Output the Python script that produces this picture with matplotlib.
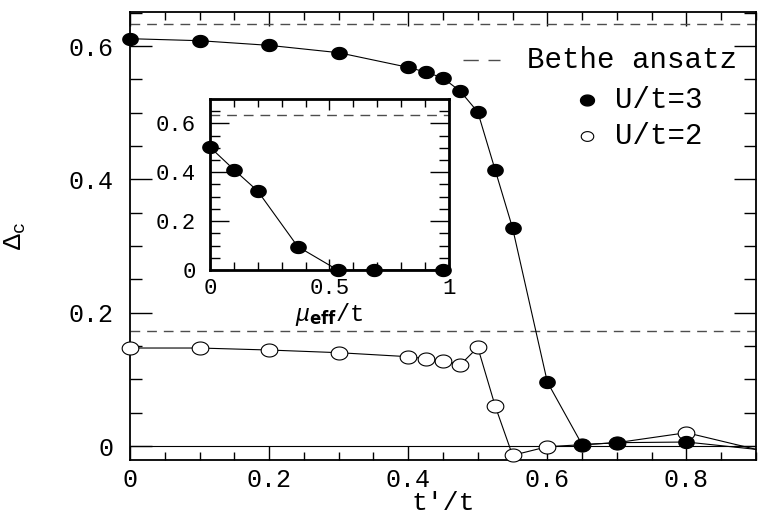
import numpy as np
import matplotlib
matplotlib.use('Agg')
import matplotlib.pyplot as plt
from matplotlib.path import Path
from matplotlib.ticker import MultipleLocator, FuncFormatter

plt.rcParams['font.family'] = ['Liberation Mono', 'DejaVu Sans Mono']
plt.rcParams['mathtext.fontset'] = 'custom'
plt.rcParams['mathtext.rm'] = 'Liberation Mono'
plt.rcParams['mathtext.it'] = 'Liberation Mono:italic'
plt.rcParams['mathtext.bf'] = 'DejaVu Sans:bold'

# main panel: gap vs t'/t
tp = [0, 0.1, 0.2, 0.3, 0.4, 0.425, 0.45, 0.475, 0.5, 0.525, 0.55, 0.6, 0.65, 0.7, 0.8, 0.9]
gap_u3 = [0.611, 0.608, 0.601, 0.590, 0.568, 0.561, 0.552, 0.532, 0.501, 0.414, 0.327,
          0.096, 0.002, 0.005, 0.006, -0.005]
gap_u2 = [0.147, 0.147, 0.144, 0.140, 0.134, 0.131, 0.128, 0.122, 0.148, 0.060, -0.014,
          -0.001, 0.002, 0.005, 0.020, -0.005]
bethe_u3 = 0.633
bethe_u2 = 0.1725

# inset: gap vs mu_eff/t
mu = [0, 0.1, 0.2, 0.367, 0.534, 0.688, 0.973]
gap_mu = [0.503, 0.411, 0.323, 0.096, 0, 0, 0]

# slightly squashed circle, as in the original
th = np.linspace(0, 2 * np.pi, 60)
ell = Path(np.column_stack([np.cos(th), 0.78 * np.sin(th)]), closed=True)

fmt = FuncFormatter(lambda v, p: '%g' % round(v, 3))
dash = (0, (7, 5))

fig = plt.figure(figsize=(7.72, 5.32), dpi=100)
ax = fig.add_axes([0.1684, 0.1353, 0.8109, 0.8421])

ax.axhline(bethe_u3, color='0.3', lw=1.0, ls=dash)
ax.axhline(bethe_u2, color='0.3', lw=1.0, ls=dash)
ax.axhline(0, color='black', lw=0.8)

ax.plot(tp, gap_u3, color='black', lw=0.8, marker=ell, ms=11, mfc='black', mec='black',
        markevery=slice(0, -1), clip_on=False, zorder=4)
ax.plot(tp, gap_u2, color='black', lw=0.8, marker=ell, ms=12, mfc='white', mec='black',
        mew=0.8, markevery=slice(0, -1), clip_on=False, zorder=3)

ax.set_xlim(0, 0.9)
ax.set_ylim(-0.021, 0.651)
ax.xaxis.set_major_locator(MultipleLocator(0.2))
ax.xaxis.set_minor_locator(MultipleLocator(0.05))
ax.yaxis.set_major_locator(MultipleLocator(0.2))
ax.yaxis.set_minor_locator(MultipleLocator(0.05))
ax.xaxis.set_major_formatter(fmt)
ax.yaxis.set_major_formatter(fmt)
ax.tick_params(which='both', direction='in', top=True, right=True, width=1.0)
ax.tick_params(axis='y', which='major', length=16, pad=12, labelsize=18)
ax.tick_params(axis='y', which='minor', length=8.5)
ax.tick_params(axis='x', which='major', length=10, pad=6, labelsize=18)
ax.tick_params(axis='x', which='minor', length=5.5)
for s in ax.spines.values():
    s.set_linewidth(1.3)

ax.set_xlabel("t'/t", fontsize=19, labelpad=-1)
ax.set_ylabel(r'$\Delta_{\mathrm{c}}$', fontsize=19)
ax.yaxis.set_label_coords(-0.163, 0.5)

# legend drawn by hand
ax.plot([0.532, 0.591], [0.893, 0.893], transform=ax.transAxes, color='0.3', lw=1.0,
        ls=(0, (11, 7)))
ax.text(0.634, 0.893, 'Bethe ansatz', transform=ax.transAxes, fontsize=21, va='center')
ax.plot([0.730], [0.804], transform=ax.transAxes, marker=ell, ms=10, mfc='black',
        mec='black', ls='none')
ax.text(0.775, 0.804, 'U/t=3', transform=ax.transAxes, fontsize=21, va='center')
ax.plot([0.730], [0.723], transform=ax.transAxes, marker=ell, ms=9, mfc='white',
        mec='black', mew=0.8, ls='none')
ax.text(0.775, 0.723, 'U/t=2', transform=ax.transAxes, fontsize=21, va='center')

# inset
ins = fig.add_axes([0.272, 0.4925, 0.3096, 0.3214])
ins.axhline(bethe_u3, color='0.3', lw=1.0, ls=dash)
ins.plot(mu, gap_mu, color='black', lw=0.8, marker=ell, ms=11, mfc='black', mec='black',
         clip_on=False, zorder=4)
ins.set_xlim(0, 1)
ins.set_ylim(0, 0.7)
ins.xaxis.set_major_locator(MultipleLocator(0.5))
ins.xaxis.set_minor_locator(MultipleLocator(0.1))
ins.yaxis.set_major_locator(MultipleLocator(0.2))
ins.yaxis.set_minor_locator(MultipleLocator(0.05))
ins.xaxis.set_major_formatter(fmt)
ins.yaxis.set_major_formatter(fmt)
ins.tick_params(which='both', direction='in', top=True, right=True, width=1.0)
ins.tick_params(axis='y', which='major', length=14, pad=10, labelsize=16)
ins.tick_params(axis='y', which='minor', length=7)
ins.tick_params(axis='x', which='major', length=8, pad=6, labelsize=16)
ins.tick_params(axis='x', which='minor', length=5.5)
for s in ins.spines.values():
    s.set_linewidth(2.0)
ins.set_xlabel(r'$\mu_{\mathbf{eff}}/\mathrm{t}$', fontsize=17, labelpad=1)

fig.savefig('out.png', dpi=100)
